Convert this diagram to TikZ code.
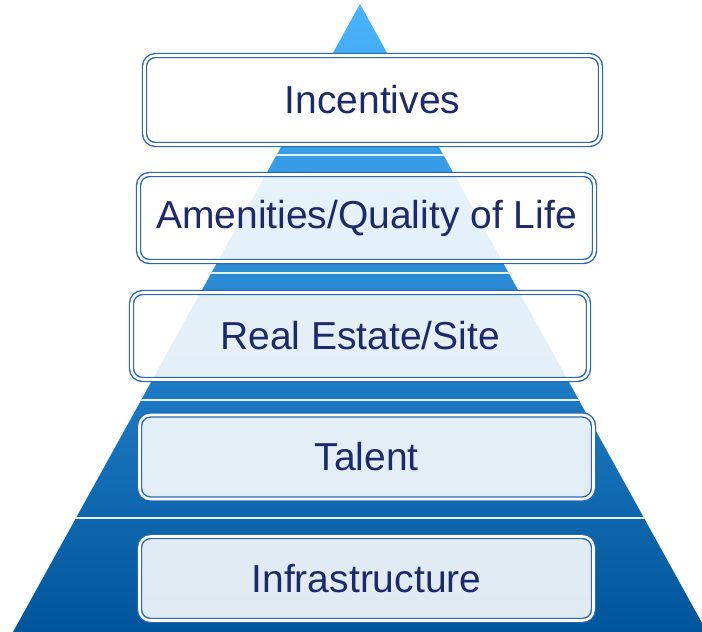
\documentclass[tikz,border=0pt]{standalone}
\usepackage{fontspec}
\setmainfont{Liberation Sans}
\definecolor{pyrtop}{HTML}{4AB4FF}
\definecolor{pyrmid}{HTML}{168EE8}
\definecolor{pyrbot}{HTML}{00559B}
\definecolor{boxline}{HTML}{2A68B2}
\definecolor{txtcol}{HTML}{1C2A6A}
\tikzset{
  layerbox/.style={draw=boxline, line width=1.4pt, double=white, double distance=2.6pt,
    rounded corners=11pt, fill=white, fill opacity=0.88, text opacity=1,
    text=txtcol, font=\fontsize{39}{46}\selectfont, inner sep=0pt},
  sepline/.style={draw=white!85!pyrtop, line width=1.8pt}
}
\begin{document}
\begin{tikzpicture}[x=1pt,y=-1pt]
\useasboundingbox (0,0) rectangle (702,632);
\coordinate (apex) at (360,4);
\coordinate (bl) at (13,632);
\coordinate (br) at (707,632);
\begin{scope}
  \clip (apex) -- (br) -- (bl) -- cycle;
  \shade[top color=pyrtop, middle color=pyrmid, bottom color=pyrbot] (0,4) rectangle (710,632);
  \coordinate (s1l) at (0,155); \coordinate (s1r) at (710,155);
  \coordinate (s2l) at (0,273); \coordinate (s2r) at (710,273);
  \coordinate (s3l) at (0,400); \coordinate (s3r) at (710,400);
  \coordinate (s4l) at (0,518); \coordinate (s4r) at (710,518);
  \draw[sepline] (s1l) -- (s1r);
  \draw[sepline] (s2l) -- (s2r);
  \draw[sepline] (s3l) -- (s3r);
  \draw[sepline] (s4l) -- (s4r);
\end{scope}
\node[layerbox, fill opacity=1, minimum width=456pt, minimum height=89pt] (inc) at (372.5,100) {Incentives};
\node[layerbox, minimum width=456pt, minimum height=87pt] (ame) at (366.5,218) {Amenities/Quality of Life};
\node[layerbox, minimum width=457pt, minimum height=87pt] (rea) at (360,336) {Real Estate/Site};
\node[layerbox, minimum width=454pt, minimum height=84pt] (tal) at (366.5,457) {Talent};
\node[layerbox, minimum width=454pt, minimum height=84pt] (inf) at (366.5,578.5) {Infrastructure};
\end{tikzpicture}
\end{document}
